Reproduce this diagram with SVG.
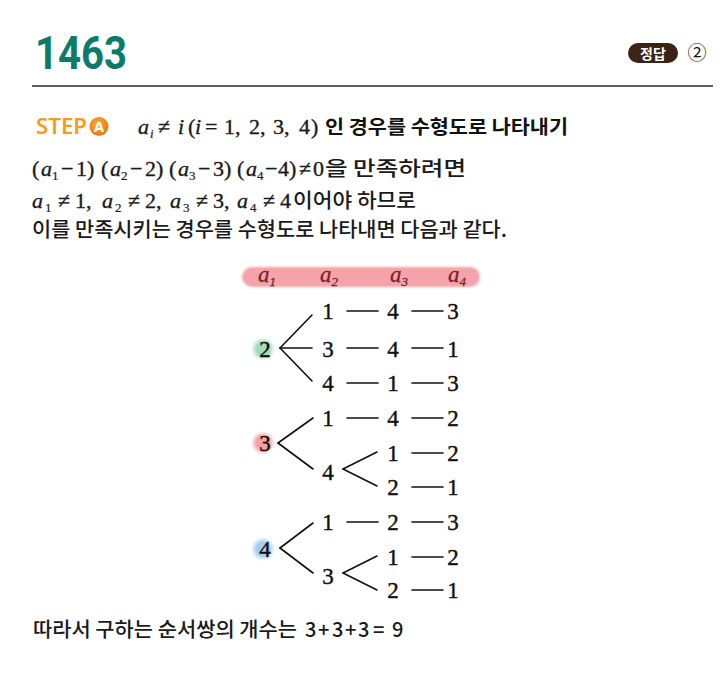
<svg xmlns="http://www.w3.org/2000/svg" width="728" height="678" viewBox="0 0 728 678">
<defs>
<style>
.kr{font-family:"Noto Sans CJK KR","Noto Sans",sans-serif;font-size:20px;font-weight:500;fill:#1a1a1a}
.krb{font-family:"Noto Sans CJK KR","Noto Sans",sans-serif;font-size:19.5px;font-weight:700;fill:#111}
.m{font-family:"Liberation Serif",serif;font-size:22px;fill:#1a1a1a;stroke:#1a1a1a;stroke-width:0.35}
.ms{font-family:"Liberation Serif",serif;font-size:22px;fill:#1a1a1a;stroke:#1a1a1a;stroke-width:0.35}
.i{font-style:italic}
.sub{font-size:13px;stroke-width:0.2}
.n{font-family:"Liberation Serif",serif;font-size:23px;text-anchor:middle;fill:#111;stroke:#111;stroke-width:0.4}
.hd{font-family:"Liberation Serif",serif;font-size:23px;font-style:italic;fill:#7a1f24;stroke:#7a1f24;stroke-width:0.3}
.hds{font-family:"Liberation Serif",serif;font-size:13px;fill:#7a1f24}
.c line{stroke:#111;stroke-width:1.6;stroke-linecap:round}
</style>
<radialGradient id="gg"><stop offset="0.55" stop-color="#9fdcbc"/><stop offset="1" stop-color="#9fdcbc" stop-opacity="0"/></radialGradient>
<radialGradient id="gp"><stop offset="0.55" stop-color="#f3a1a1"/><stop offset="1" stop-color="#f3a1a1" stop-opacity="0"/></radialGradient>
<radialGradient id="gb"><stop offset="0.55" stop-color="#a4cdf0"/><stop offset="1" stop-color="#a4cdf0" stop-opacity="0"/></radialGradient>
<radialGradient id="go" cx="0.45" cy="0.4"><stop offset="0" stop-color="#fbb437"/><stop offset="1" stop-color="#ef7f16"/></radialGradient>
<filter id="bl" x="-5%" y="-30%" width="110%" height="160%"><feGaussianBlur stdDeviation="0.8"/></filter>
</defs>
<rect width="728" height="678" fill="#ffffff"/>

<g id="title">
<text x="35" y="69" font-family="Roboto,'Liberation Sans',sans-serif" font-size="46" font-weight="700" fill="#0d7b6c" textLength="92" lengthAdjust="spacingAndGlyphs">1463</text>
<line x1="32" y1="86" x2="713" y2="86" stroke="#2a2a2a" stroke-width="1.6"/>
</g>

<g id="answer">
<rect x="628" y="43" width="50" height="20" rx="10" fill="#3b2316"/>
<text x="653" y="58.5" text-anchor="middle" font-family="'Noto Sans CJK KR',sans-serif" font-size="14" font-weight="700" fill="#ffffff">정답</text>
<text x="697" y="60" text-anchor="middle" font-family="'Noto Sans CJK KR',sans-serif" font-size="19" fill="#111">②</text>
</g>

<g id="step">
<text x="36" y="134" font-family="'Noto Sans','Liberation Sans',sans-serif" font-size="21" font-weight="600" fill="#f39d1c" textLength="51" lengthAdjust="spacingAndGlyphs">STEP</text>
<circle cx="99" cy="126.5" r="9.5" fill="url(#go)"/>
<text x="99" y="132" text-anchor="middle" font-family="'Noto Sans','Liberation Sans',sans-serif" font-size="15" font-weight="700" fill="#ffffff">A</text>
<text class="ms"><tspan class="i" x="138" y="134">a</tspan><tspan class="i sub" x="150" y="138" font-size="12">i</tspan><tspan x="158" y="134">≠</tspan><tspan class="i" x="178">i</tspan><tspan x="188">(</tspan><tspan class="i" x="195">i</tspan><tspan x="205">=</tspan><tspan x="224">1,</tspan><tspan x="249">2,</tspan><tspan x="273">3,</tspan><tspan x="299">4</tspan><tspan x="311">)</tspan></text>
<text class="krb" x="325" y="134" textLength="243" lengthAdjust="spacingAndGlyphs">인 경우를 수형도로 나타내기</text>
</g>

<g id="line1">
<text class="m"><tspan x="32" y="176">(</tspan><tspan class="i" x="41">a</tspan><tspan class="sub" x="52" y="180">1</tspan><tspan x="61" y="176">−</tspan><tspan x="76">1</tspan><tspan x="87">)</tspan><tspan x="101">(</tspan><tspan class="i" x="110">a</tspan><tspan class="sub" x="121" y="180">2</tspan><tspan x="130" y="176">−</tspan><tspan x="145">2</tspan><tspan x="156">)</tspan><tspan x="169">(</tspan><tspan class="i" x="178">a</tspan><tspan class="sub" x="189" y="180">3</tspan><tspan x="198" y="176">−</tspan><tspan x="213">3</tspan><tspan x="224">)</tspan><tspan x="237">(</tspan><tspan class="i" x="246">a</tspan><tspan class="sub" x="257" y="180">4</tspan><tspan x="265" y="176">−</tspan><tspan x="278">4</tspan><tspan x="289">)</tspan><tspan x="299">≠</tspan><tspan x="313">0</tspan></text>
<text class="kr" x="325" y="176" textLength="141" lengthAdjust="spacingAndGlyphs">을 만족하려면</text>
</g>

<g id="line2">
<text class="m"><tspan class="i" x="32" y="208">a</tspan><tspan class="sub" x="45" y="212">1</tspan><tspan x="58" y="208">≠</tspan><tspan x="75">1,</tspan><tspan class="i" x="102">a</tspan><tspan class="sub" x="115" y="212">2</tspan><tspan x="128" y="208">≠</tspan><tspan x="145">2,</tspan><tspan class="i" x="170">a</tspan><tspan class="sub" x="183" y="212">3</tspan><tspan x="196" y="208">≠</tspan><tspan x="213">3,</tspan><tspan class="i" x="237">a</tspan><tspan class="sub" x="250" y="212">4</tspan><tspan x="263" y="208">≠</tspan><tspan x="280">4</tspan></text>
<text class="kr" x="293" y="208" textLength="123" lengthAdjust="spacingAndGlyphs">이어야 하므로</text>
</g>

<g id="line3">
<text class="kr" x="32" y="237" textLength="475" lengthAdjust="spacingAndGlyphs">이를 만족시키는 경우를 수형도로 나타내면 다음과 같다.</text>
</g>

<g id="header">
<rect x="242" y="267" width="238" height="20" rx="10" fill="#f4a3aa" filter="url(#bl)"/>
<text class="hd" x="258" y="282">a<tspan class="hds" dy="4">1</tspan></text>
<text class="hd" x="320" y="282">a<tspan class="hds" dy="4">2</tspan></text>
<text class="hd" x="390" y="282">a<tspan class="hds" dy="4">3</tspan></text>
<text class="hd" x="448" y="282">a<tspan class="hds" dy="4">4</tspan></text>
</g>

<g id="connectors" class="c">
<line x1="280" y1="348" x2="312" y2="315"/>
<line x1="280" y1="348" x2="312" y2="348"/>
<line x1="280" y1="348" x2="312" y2="381"/>
<line x1="347" y1="311" x2="378" y2="311"/>
<line x1="412" y1="311" x2="443" y2="311"/>
<line x1="347" y1="348" x2="378" y2="348"/>
<line x1="412" y1="348" x2="443" y2="348"/>
<line x1="347" y1="383" x2="378" y2="383"/>
<line x1="412" y1="383" x2="443" y2="383"/>

<line x1="278" y1="443" x2="313" y2="418"/>
<line x1="278" y1="443" x2="313" y2="469"/>
<line x1="347" y1="418" x2="378" y2="418"/>
<line x1="412" y1="418" x2="443" y2="418"/>
<line x1="343" y1="469" x2="377" y2="452"/>
<line x1="343" y1="469" x2="377" y2="486"/>
<line x1="412" y1="453" x2="443" y2="453"/>
<line x1="412" y1="487" x2="443" y2="487"/>

<line x1="280" y1="548" x2="313" y2="523"/>
<line x1="280" y1="548" x2="313" y2="573"/>
<line x1="347" y1="522" x2="378" y2="522"/>
<line x1="412" y1="522" x2="443" y2="522"/>
<line x1="343" y1="573" x2="377" y2="556"/>
<line x1="343" y1="573" x2="377" y2="590"/>
<line x1="412" y1="557" x2="443" y2="557"/>
<line x1="412" y1="590" x2="443" y2="590"/>
</g>

<g id="tree1">
<g id="t1-root"><circle cx="263" cy="349" r="12" fill="url(#gg)"/><text class="n" x="265" y="357">2</text></g>
<g id="t1-r1"><text class="n" x="328" y="319">1</text><text class="n" x="393" y="319">4</text><text class="n" x="453" y="319">3</text></g>
<g id="t1-r2"><text class="n" x="328" y="357">3</text><text class="n" x="393" y="357">4</text><text class="n" x="453" y="357">1</text></g>
<g id="t1-r3"><text class="n" x="328" y="391">4</text><text class="n" x="393" y="391">1</text><text class="n" x="453" y="391">3</text></g>
</g>

<g id="tree2">
<g id="t2-root"><circle cx="263" cy="443" r="12" fill="url(#gp)"/><text class="n" x="265" y="451">3</text></g>
<g id="t2-r1"><text class="n" x="328" y="426">1</text><text class="n" x="393" y="426">4</text><text class="n" x="453" y="426">2</text></g>
<g id="t2-b"><text class="n" x="328" y="480">4</text></g>
<g id="t2-r2"><text class="n" x="393" y="461">1</text><text class="n" x="453" y="461">2</text></g>
<g id="t2-r3"><text class="n" x="393" y="495">2</text><text class="n" x="453" y="495">1</text></g>
</g>

<g id="tree3">
<g id="t3-root"><circle cx="263" cy="549" r="12" fill="url(#gb)"/><text class="n" x="265" y="557">4</text></g>
<g id="t3-r1"><text class="n" x="328" y="530">1</text><text class="n" x="393" y="530">2</text><text class="n" x="453" y="530">3</text></g>
<g id="t3-b"><text class="n" x="328" y="584">3</text></g>
<g id="t3-r2"><text class="n" x="393" y="565">1</text><text class="n" x="453" y="565">2</text></g>
<g id="t3-r3"><text class="n" x="393" y="598">2</text><text class="n" x="453" y="598">1</text></g>
</g>

<g id="conclusion">
<text class="kr" x="33" y="637" textLength="264" lengthAdjust="spacingAndGlyphs">따라서 구하는 순서쌍의 개수는</text>
<text class="kr" x="305 318 332 345 358 373 392" y="637">3+3+3=9</text>
</g>
</svg>
